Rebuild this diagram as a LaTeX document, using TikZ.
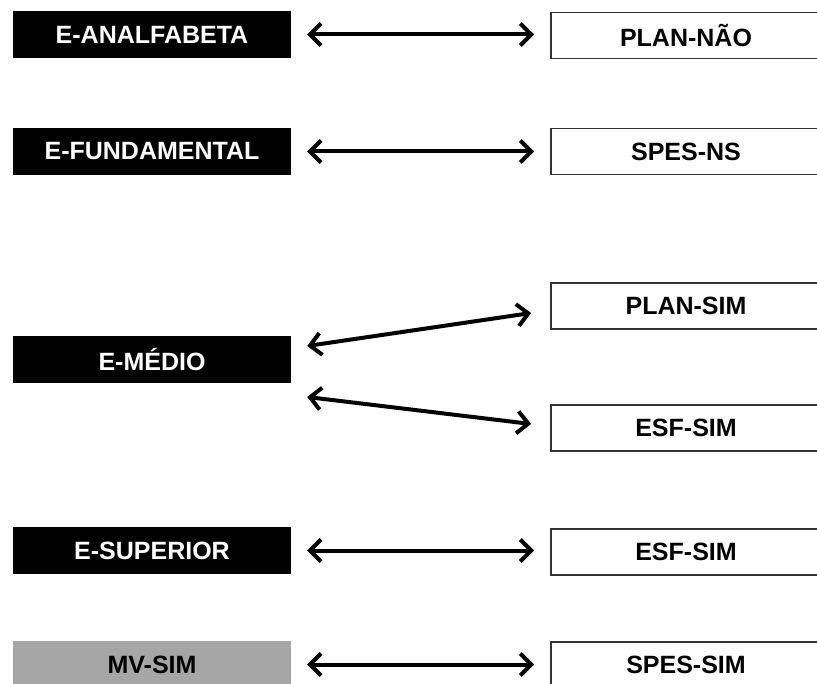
\documentclass[tikz,border=0pt]{standalone}
\usepackage{fontspec}
\setmainfont{Liberation Sans}
\usetikzlibrary{arrows.meta,calc}
\tikzset{
  lbox/.style={rectangle, minimum width=278pt, minimum height=47pt, inner sep=0pt,
    fill=black, text=white, font=\fontsize{25}{28}\selectfont\bfseries},
  gbox/.style={lbox, fill={rgb,255:red,166;green,166;blue,166}, text=black},
  rbox/.style={rectangle, minimum width=270pt, minimum height=46pt, inner sep=0pt,
    draw={rgb,255:red,50;green,50;blue,50}, line width=1.8pt, fill=white, text=black,
    font=\fontsize{25}{28}\selectfont\bfseries},
  link/.style={line width=4pt, {Straight Barb[length=11pt,width=22pt]}-{Straight Barb[length=11pt,width=22pt]},
    shorten <=16pt, shorten >=16pt},
}
\begin{document}
\begin{tikzpicture}[x=1pt,y=-1pt]
\useasboundingbox (0,0) rectangle (817,684);
\fill[white] (0,0) rectangle (817,684);
% left column
\node[lbox] (ana) at (152,34.5) {E-ANALFABETA};
\node[lbox] (fund) at (152,151.5) {E-FUNDAMENTAL};
\node[lbox] (med) at (152,359.5) {E-MÉDIO};
\node[lbox] (sup) at (152,550.5) {E-SUPERIOR};
\node[gbox] (mv) at (152,664.5) {MV-SIM};
% right column
\node[rbox] (plann) at (686,35.5) {PLAN-NÃO};
\node[rbox] (spesns) at (686,151.5) {SPES-NS};
\node[rbox] (plans) at (686,306) {PLAN-SIM};
\node[rbox] (esf1) at (686,428) {ESF-SIM};
\node[rbox] (esf2) at (686,552) {ESF-SIM};
\node[rbox] (spess) at (686,665) {SPES-SIM};
% connectors
\draw[link] (ana.east) -- (ana.east -| plann.west);
\draw[link] (fund.east) -- (fund.east -| spesns.west);
\draw[link] (sup.east) -- (sup.east -| esf2.west);
\draw[link] (mv.east) -- (mv.east -| spess.west);
\coordinate (m1) at ($(med.east)+(16,-13.5)$);
\coordinate (m2) at ($(med.east)+(16,37.5)$);
\coordinate (p1) at ($(plans.west)+(-19,7)$);
\coordinate (e1) at ($(esf1.west)+(-19,-4)$);
\draw[link, shorten <=0pt, shorten >=0pt] (m1) -- (p1);
\draw[link, shorten <=0pt, shorten >=0pt] (m2) -- (e1);
\end{tikzpicture}
\end{document}
